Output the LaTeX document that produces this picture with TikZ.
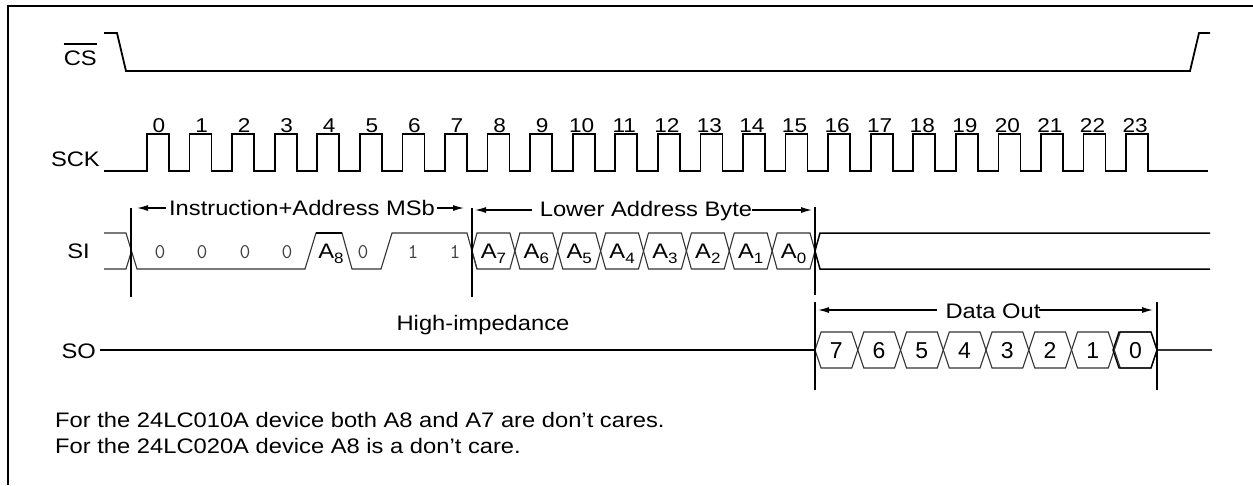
\documentclass[tikz,border=0pt]{standalone}
\usepackage{fontspec}
\usepackage{graphicx}
\setmainfont{Liberation Sans}
\usetikzlibrary{arrows.meta}
\newcommand\lowsub[1]{\raisebox{-5pt}{\fontsize{15}{15}\selectfont #1}}
\newcommand\cn[1]{\scalebox{1.13}[1]{#1}}
\begin{document}
\begin{tikzpicture}[x=1pt,y=-1pt,
  sigline/.style={line width=1.8pt},
  busline/.style={line width=1.1pt, draw=black!80},
  markline/.style={line width=2pt},
  lbl/.style={inner sep=0pt, font=\fontsize{21}{25}\selectfont},
  clklbl/.style={inner sep=0pt, font=\fontsize{20}{24}\selectfont},
  cellnum/.style={inner sep=0pt, font=\fontsize{23}{27}\selectfont},
  bitlbl/.style={inner sep=0pt, font=\fontsize{21}{25}\ttfamily, text=black!75},
  dimarrow/.style={line width=1.3pt, -{Latex[length=11pt,width=6pt]}},
]
\useasboundingbox (0,0) rectangle (1253,485);
\fill[white] (0,0) rectangle (1253,485);
% frame
\draw[line width=2pt] (8,485) -- (8,6) -- (1253,6);

% ---------- CS ----------
\node[lbl, anchor=base east] (cs) at (97,65) {\cn{CS}};
\draw[line width=1.3pt] ([yshift=6pt]cs.north west) -- ([yshift=6pt]cs.north east);
\draw[sigline] (104,33) -- (117,33) -- (126,71) -- (1190,71) -- (1199,33) -- (1210,33);

% ---------- SCK ----------
\node[lbl, anchor=base east] (sck) at (100,166) {\cn{SCK}};
\draw[sigline] (104,171) foreach \k in {0,...,23} {
  -- ({147+42.57*\k},171) -- ({147+42.57*\k},134) -- ({169+42.57*\k},134) -- ({169+42.57*\k},171) } -- (1208,171);
\foreach \k in {0,...,23}
  \node[clklbl, anchor=base] (clk\k) at ({147+42.57*\k + (\k<10 ? 12 : 9)},132) {\cn{\k}};

% ---------- SI ----------
\node[lbl, anchor=east] (si) at (90,251) {\cn{SI}};
\draw[busline] (104,233) -- (126,233) -- (137,269) -- (305,269) -- (316,233) -- (342,233) -- (352,269) -- (381,269) -- (392,233) -- (467,233) -- (477,269);
\draw[busline] (104,269) -- (126,269) -- (131.5,251);
\draw[line width=1.8pt] (316,233) -- (342,233);
\foreach \x/\t [count=\i] in {160/0,202/0,245/0,287/0,363/0,413/1,455/1}
  \node[bitlbl, anchor=base] (bit\i) at (\x,258) {\t};
\node[lbl, anchor=base] (a8) at (331,258) {\cn{A\lowsub{8}}};
\foreach \k in {0,...,7} {
  \pgfmathsetmacro\xa{472+42.875*\k}
  \pgfmathsetmacro\xb{472+42.875*(\k+1)}
  \pgfmathtruncatemacro\n{7-\k}
  \draw[busline] (\xa,251) -- (\xa+5,233) -- (\xb-5,233) -- (\xb,251) -- (\xb-5,269) -- (\xa+5,269) -- cycle;
  \node[lbl, anchor=base] (ab\n) at ({(\xa+\xb)/2},258) {\cn{A\lowsub{\n}}};
}
\draw[line width=1.5pt] (1210,233) -- (820,233) -- (815,251) -- (820,269) -- (1210,269);

% markers for SI
\coordinate (m1t) at (131,208); \coordinate (m1b) at (131,297);
\coordinate (m2t) at (472,208); \coordinate (m2b) at (472,297);
\coordinate (m3t) at (815,207); \coordinate (m3b) at (815,295);
\draw[markline] (m1t) -- (m1b);
\draw[markline] (m2t) -- (m2b);
\draw[markline] (m3t) -- (m3b);

% Instruction+Address MSb
\node[lbl, anchor=base] (ia) at (302,215) {\cn{Instruction+Address MSb}};
\coordinate (iaL) at (137,208); \coordinate (iaR) at (464,208);
\draw[dimarrow] ([xshift=-3pt]ia.west |- iaL) -- (iaL);
\draw[dimarrow] ([xshift=2pt]ia.east |- iaR) -- (iaR);

% Lower Address Byte
\node[lbl, anchor=base] (lab) at (646,216) {\cn{Lower Address Byte}};
\coordinate (labL) at (475,210); \coordinate (labR) at (812,210);
\draw[dimarrow] ([xshift=-8pt]lab.west |- labL) -- (labL);
\draw[dimarrow] (lab.east |- labR) -- (labR);

% ---------- SO ----------
\node[lbl, anchor=east] (so) at (96,351) {\cn{SO}};
\draw[sigline] (100,350) -- (815,350);
\node[lbl, anchor=base] (hiz) at (483,330) {\cn{High-impedance}};
\foreach \k in {0,...,7} {
  \pgfmathsetmacro\xa{815+42.75*\k}
  \pgfmathsetmacro\xb{815+42.75*(\k+1)}
  \pgfmathtruncatemacro\n{7-\k}
  \draw[busline] (\xa,350) -- (\xa+6,332) -- (\xb-6,332) -- (\xb,350) -- (\xb-6,368) -- (\xa+6,368) -- cycle;
  \node[cellnum, anchor=base] (d\n) at ({(\xa+\xb)/2},358) {\n};
}
\draw[line width=1.4pt] (1113,350) -- (1119,332) -- (1151,332) -- (1157,350) -- (1151,368) -- (1119,368) -- cycle;
\draw[busline] (1157,350) -- (1212,350);

\coordinate (m4t) at (815,302); \coordinate (m4b) at (815,390);
\coordinate (m5t) at (1157,302); \coordinate (m5b) at (1157,390);
\draw[markline] (m4t) -- (m4b);
\draw[markline] (m5t) -- (m5b);
\node[lbl, anchor=base] (dout) at (993,318) {\cn{Data Out}};
\coordinate (doL) at (818,310); \coordinate (doR) at (1153,310);
\draw[dimarrow] ([xshift=-8pt]dout.west |- doL) -- (doL);
\draw[dimarrow] ([xshift=-2pt]dout.east |- doR) -- (doR);

% ---------- notes ----------
\node[lbl, anchor=base west] (note1) at (55,427) {\cn{For the 24LC010A device both A8 and A7 are don’t cares.}};
\node[lbl, anchor=base west] (note2) at (55,453) {\cn{For the 24LC020A device A8 is a don’t care.}};
\end{tikzpicture}
\end{document}
